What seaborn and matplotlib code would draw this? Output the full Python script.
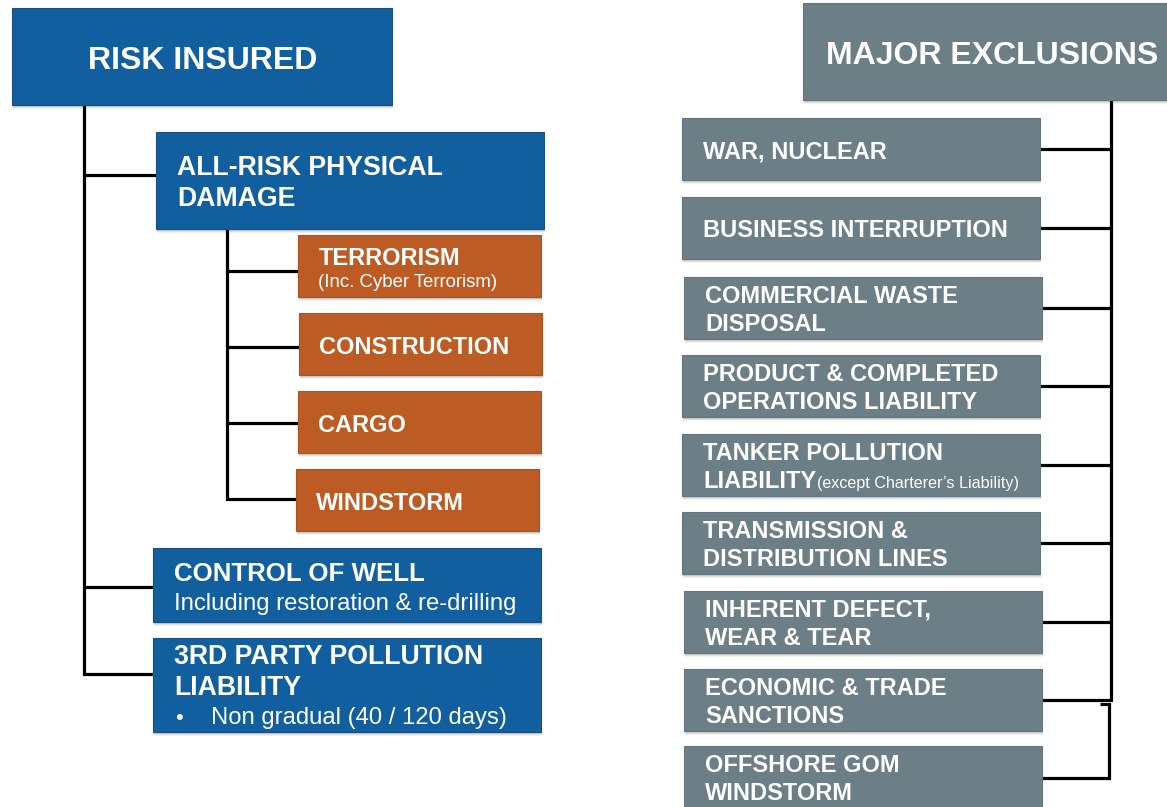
import matplotlib.pyplot as plt
import seaborn as sns
from matplotlib.patches import Rectangle

sns.set_theme(style="white")
plt.rcParams['font.family'] = ['Liberation Sans', 'DejaVu Sans']

# ---- content ----
insured_title = 'RISK INSURED'
insured_items = [['ALL-RISK PHYSICAL', 'DAMAGE'], ['CONTROL OF WELL'], ['3RD PARTY POLLUTION', 'LIABILITY']]
insured_notes = ['', 'Including restoration & re-drilling', 'Non gradual (40 / 120 days)']
physical_items = ['TERRORISM', 'CONSTRUCTION', 'CARGO', 'WINDSTORM']
physical_notes = ['(Inc. Cyber Terrorism)', '', '', '']
exclusions_title = 'MAJOR EXCLUSIONS'
exclusions = [['WAR, NUCLEAR'], ['BUSINESS INTERRUPTION'], ['COMMERCIAL WASTE', 'DISPOSAL'],
              ['PRODUCT & COMPLETED', 'OPERATIONS LIABILITY'], ['TANKER POLLUTION', 'LIABILITY'],
              ['TRANSMISSION &', 'DISTRIBUTION LINES'], ['INHERENT DEFECT,', 'WEAR & TEAR'],
              ['ECONOMIC & TRADE', 'SANCTIONS'], ['OFFSHORE GOM', 'WINDSTORM']]
exclusion_notes = ['', '', '', '', '(except Charterer\u2019s Liability)', '', '', '', '']

# ---- layout (pixels, y down) ----
insured_x0 = [156, 153, 153]
insured_x1 = [544, 541, 541]
insured_y0 = [132, 548, 638]
insured_y1 = [229, 622, 732]
insured_base = [175, 581, 664]
insured_branch = [175, 587, 674]
physical_x0 = [298, 299, 298, 296]
physical_y0 = [235, 313, 391, 469]
physical_branch = [271, 347, 423, 499]
excl_x0 = [682, 682, 684, 682, 682, 682, 684, 684, 684]
excl_y0 = [118, 197, 277, 355, 434, 512, 591, 669, 746]

BLUE, BLUE_EDGE = '#115F9F', '#1D4F7C'
ORANGE, ORANGE_EDGE = '#BD5B24', '#A9521F'
GRAY, GRAY_EDGE = '#6C7F87', '#64767D'
LW = 2.3

fig = plt.figure(figsize=(11.67, 8.07), dpi=100)
ax = fig.add_axes([0, 0, 1, 1])
ax.set_xlim(0, 1167)
ax.set_ylim(807, 0)
ax.axis('off')


def box(x0, y0, x1, y1, color, edge):
    # soft drop shadow
    for k, a in [(4, 0.05), (3, 0.07), (2, 0.09), (1, 0.1)]:
        ax.add_patch(Rectangle((x0 + 1, y0 + k), x1 - x0, y1 - y0, color='black', alpha=a, lw=0, zorder=1))
    ax.add_patch(Rectangle((x0, y0), x1 - x0, y1 - y0, facecolor=color, edgecolor=edge, lw=0.8, zorder=2))


def line(xs, ys):
    ax.plot(xs, ys, color='black', lw=LW, solid_capstyle='butt', solid_joinstyle='miter', zorder=0)


def label(x, y, s, size, bold=True, ha='left'):
    return ax.text(x, y, s, color='white', fontsize=size, fontweight='bold' if bold else 'normal',
                   ha=ha, va='baseline', zorder=3)


# ---- left tree: risk insured ----
line([84, 84, 153], [105, insured_branch[-1], insured_branch[-1]])
for yb, x0 in zip(insured_branch[:-1], insured_x0[:-1]):
    line([84, x0], [yb, yb])
line([227, 227, physical_x0[-1]], [229, physical_branch[-1], physical_branch[-1]])
for yb, x0 in zip(physical_branch[:-1], physical_x0[:-1]):
    line([227, x0], [yb, yb])

box(12, 8, 392, 105, BLUE, BLUE_EDGE)
label(203, 69, insured_title, 23, ha='center')

for i, lines in enumerate(insured_items):
    box(insured_x0[i], insured_y0[i], insured_x1[i], insured_y1[i], BLUE, BLUE_EDGE)
    size = 18.6 if len(lines) == 1 else 19.2
    base = insured_base[i]
    for j, s in enumerate(lines):
        label(insured_x0[i] + 21, base + 31 * j, s, size)
    if insured_notes[i]:
        nb = base + 31 * len(lines) - 2
        if i == 2:
            label(insured_x0[i] + 22, nb, '\u2022', 16, bold=False)
            label(insured_x0[i] + 58, nb, insured_notes[i], 17.2, bold=False)
        else:
            label(insured_x0[i] + 21, nb, insured_notes[i], 17.2, bold=False)

for i, s in enumerate(physical_items):
    x0, y0 = physical_x0[i], physical_y0[i]
    box(x0, y0, x0 + 243, y0 + 62, ORANGE, ORANGE_EDGE)
    if physical_notes[i]:
        label(x0 + 21, y0 + 30, s, 17)
        label(x0 + 20, y0 + 52, physical_notes[i], 13.4, bold=False)
    else:
        label(x0 + 20, y0 + 41, s, 17)

# ---- right tree: major exclusions ----
centers = [y0 + 31 for y0 in excl_y0]
line([1111, 1111, 1041], [100, centers[-2], centers[-2]])
for yc in centers[:-2]:
    line([1040, 1111], [yc, yc])
line([1100, 1109, 1109, 1041], [centers[-2] + 4, centers[-2] + 4, centers[-1] + 1, centers[-1] + 1])

box(803, 3, 1180, 100, GRAY, GRAY_EDGE)
label(826, 64, exclusions_title, 23)

for i, lines in enumerate(exclusions):
    x0, y0 = excl_x0[i], excl_y0[i]
    box(x0, y0, x0 + 358, y0 + 62, GRAY, GRAY_EDGE)
    if len(lines) == 1:
        label(x0 + 21, y0 + 40, lines[0], 17)
    else:
        label(x0 + 21, y0 + 26, lines[0], 17)
        t = label(x0 + 21, y0 + 54, lines[1], 17)
        if exclusion_notes[i]:
            fig.canvas.draw()
            bb = t.get_window_extent().transformed(ax.transData.inverted())
            label(max(bb.x0, bb.x1) + 1, y0 + 54, exclusion_notes[i], 11.6, bold=False)

fig.savefig('out.png', dpi=100, facecolor='white')
